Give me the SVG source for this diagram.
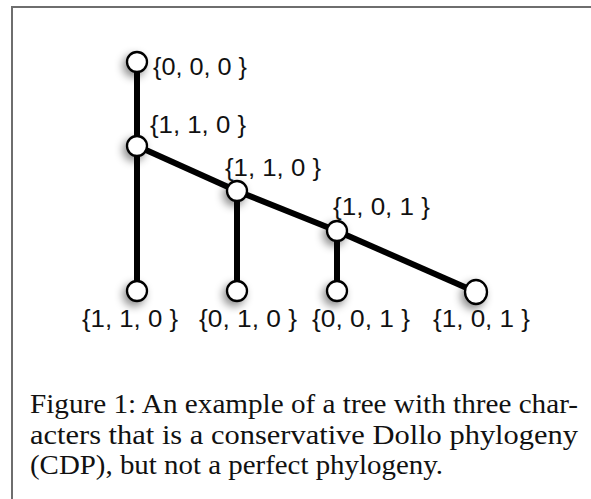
<svg xmlns="http://www.w3.org/2000/svg" width="591" height="499" viewBox="0 0 591 499">
<style>
.frame{stroke:#6e6e6e;stroke-width:2;fill:none}
.edge{stroke:#000;stroke-width:6;stroke-linecap:butt;fill:none}
.node{fill:#fff;stroke:#000;stroke-width:2.3}
.lbl{font-family:"Liberation Sans",Arial,Helvetica,sans-serif;font-size:23.5px;fill:#111}
.cap{font-family:"Liberation Serif","Times New Roman",serif;font-size:27px;fill:#111}
</style>
<defs>
<filter id="sh" x="-100%" y="-100%" width="300%" height="300%">
<feDropShadow dx="-3" dy="4" stdDeviation="4" flood-color="#000" flood-opacity="0.45"/>
</filter>
</defs>
<path class="frame" d="M12,499 V7 H591"/>
<g id="connectors">
<line class="edge" x1="137" y1="62" x2="137" y2="146"/>
<line class="edge" x1="137" y1="146" x2="137" y2="291"/>
<line class="edge" x1="137" y1="146" x2="237" y2="191"/>
<line class="edge" x1="237" y1="191" x2="237" y2="291"/>
<line class="edge" x1="237" y1="191" x2="337" y2="231"/>
<line class="edge" x1="337" y1="231" x2="337" y2="291"/>
<line class="edge" x1="337" y1="231" x2="476" y2="292"/>
</g>
<g id="root"><circle class="node" cx="137" cy="62" r="10" filter="url(#sh)"/><text class="lbl" x="153" y="75" textLength="94" lengthAdjust="spacingAndGlyphs">{0, 0, 0 }</text></g>
<g id="nA"><circle class="node" cx="137" cy="146" r="10" filter="url(#sh)"/><text class="lbl" x="150" y="133" textLength="96" lengthAdjust="spacingAndGlyphs">{1, 1, 0 }</text></g>
<g id="nB"><circle class="node" cx="237" cy="191" r="10" filter="url(#sh)"/><text class="lbl" x="225" y="176" textLength="96" lengthAdjust="spacingAndGlyphs">{1, 1, 0 }</text></g>
<g id="nC"><circle class="node" cx="337" cy="231" r="10" filter="url(#sh)"/><text class="lbl" x="333" y="215" textLength="97" lengthAdjust="spacingAndGlyphs">{1, 0, 1 }</text></g>
<g id="leafA"><circle class="node" cx="137" cy="291" r="10" filter="url(#sh)"/><text class="lbl" x="82" y="327" textLength="96" lengthAdjust="spacingAndGlyphs">{1, 1, 0 }</text></g>
<g id="leafB"><circle class="node" cx="237" cy="291" r="10" filter="url(#sh)"/><text class="lbl" x="199" y="327" textLength="98" lengthAdjust="spacingAndGlyphs">{0, 1, 0 }</text></g>
<g id="leafC"><circle class="node" cx="337" cy="291" r="10" filter="url(#sh)"/><text class="lbl" x="312" y="327" textLength="98" lengthAdjust="spacingAndGlyphs">{0, 0, 1 }</text></g>
<g id="leafD"><ellipse class="node" cx="476" cy="292" rx="11" ry="12" filter="url(#sh)"/><text class="lbl" x="433" y="327" textLength="97" lengthAdjust="spacingAndGlyphs">{1, 0, 1 }</text></g>
<g id="caption">
<text class="cap" x="30" y="413" textLength="548" lengthAdjust="spacingAndGlyphs">Figure 1: An example of a tree with three char-</text>
<text class="cap" x="30" y="443.5" textLength="548" lengthAdjust="spacingAndGlyphs">acters that is a conservative Dollo phylogeny</text>
<text class="cap" x="30" y="474" textLength="413" lengthAdjust="spacingAndGlyphs">(CDP), but not a perfect phylogeny.</text>
</g>
</svg>
